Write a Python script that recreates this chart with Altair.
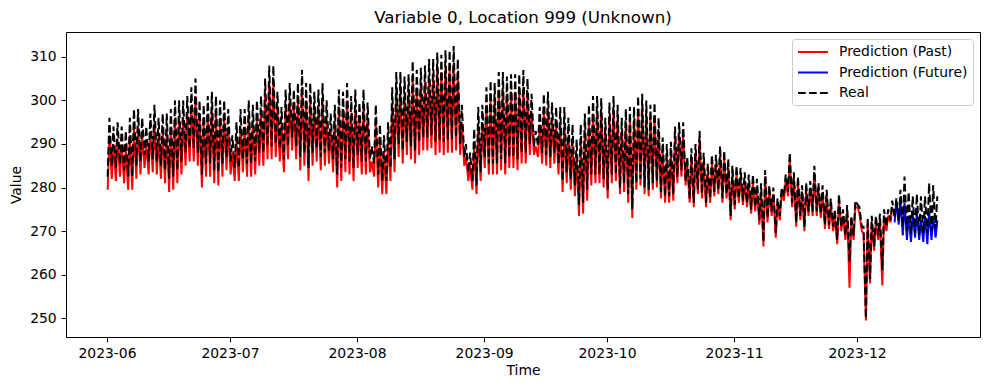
import altair as alt
import pandas as pd

START = "2023-06-01"
SERIES = ["Prediction (Past)", "Prediction (Future)", "Real"]
TITLE = "Variable 0, Location 999 (Unknown)"
MONTH_TICKS = [6, 7, 8, 9, 10, 11, 12]
Y_TICKS = [250, 260, 270, 280, 290, 300, 310]

# Real (black dashed): daily high / low, day 0 = 2023-06-01
real_hi = [
    296, 294, 295, 294, 293, 296, 298, 298, 296, 294,
    297, 299, 296, 297, 297, 298, 300, 300, 300, 301,
    303, 305, 300, 299, 301, 302, 301, 300, 300, 298,
    292, 295, 298, 298, 300, 299, 300, 301, 305, 308,
    308, 302, 298.5, 302.5, 304, 302.5, 304, 307, 304, 304,
    302, 302.5, 304, 300, 297, 299, 302.5, 302, 304, 301,
    302.5, 299.5, 302.5, 299.5, 289.5, 299, 294.5, 292, 295, 303,
    306.5, 306.5, 305.5, 306, 309, 307, 307.5, 308, 309.5, 309.5,
    311, 310.5, 311.5, 311.5, 312.5, 309.5, 299, 290, 288, 293.5,
    298.5, 299, 303, 304.5, 304, 306.5, 306.5, 305.5, 306, 306,
    306, 307, 305, 301.5, 293, 298.5, 301.5, 302, 299.5, 298.5,
    298.5, 298.5, 296, 294.5, 291, 294.5, 297, 299, 301, 301,
    300.5, 296, 299.5, 301, 299, 296, 298, 298.5, 298.5, 301,
    301.5, 300, 299, 299.5, 296, 291.5, 290, 290.5, 294, 295,
    295, 287, 289, 290, 293, 288, 285.5, 287.5, 287.5, 289.5,
    288.5, 286.5, 285, 285, 284.5, 283.5, 283, 283, 282, 281,
    284, 280.5, 280, 277.5, 280, 283, 288, 283.5, 282.5, 280.5,
    281, 281.5, 285, 281, 280.5, 279.5, 277.5, 275, 278.5, 275,
    276, 273.5, 277, 275.5, 271, 273, 273.5, 273.5, 274, 275,
    275, 277, 277.5, 279.5, 282.5, 279, 278, 278.5, 278, 278,
    281, 280.5, 278,
]
real_lo = [
    282.5, 285, 284.5, 285.5, 284, 282.5, 282.5, 285, 286, 287.5,
    286, 286.5, 286, 285, 284, 282, 282.5, 284, 286, 288,
    289, 289, 288, 283, 285.5, 285.5, 284, 283.5, 285.5, 287,
    286, 284.5, 284.5, 286.5, 285.5, 285.5, 286, 288, 288, 289.5,
    289.5, 290, 289, 286.5, 289.5, 291.5, 289.5, 287, 288, 284.5,
    288, 289, 287, 288, 288.5, 286.5, 283, 284.5, 286.5, 286,
    284.5, 287.5, 286, 286, 286.5, 285.5, 283, 281.5, 281.5, 284.5,
    286.5, 290, 288.5, 290.5, 289.5, 288.5, 290.5, 291.5, 291.5, 292,
    290.5, 291, 290.5, 291, 291, 291.5, 290, 287, 283.5, 281.5,
    280.5, 283.5, 287, 285.5, 285.5, 285.5, 286.5, 285.5, 287, 287,
    286.5, 288, 288, 290, 289.5, 289.5, 288, 287.5, 287, 288,
    285.5, 281.5, 283.5, 282, 280.5, 276, 276.5, 279.5, 283, 283,
    283, 282, 279.5, 283, 283, 280, 281, 278.5, 275, 281,
    282, 280, 279.5, 281, 281.5, 279, 278, 278, 278.5, 282.5,
    284, 281.5, 277.5, 276.5, 279.5, 278.5, 276.5, 277.5, 279, 279.5,
    277.5, 278.5, 273.5, 276, 277.5, 277, 276.5, 275, 275.5, 272.5,
    267.5, 273, 274.5, 269.5, 273.5, 278, 279, 276.5, 272, 273.5,
    271, 274.5, 274.5, 274.5, 274, 271.5, 271.5, 271, 268, 271,
    269, 263, 269, 276, 271, 250, 259, 266.5, 269, 261,
    271, 272.5, 273, 272.5, 271, 270, 269.5, 269.5, 269, 269.5,
    269.5, 270, 270.5,
]

# Prediction (Past), red: days 0..191
pred_hi = [
    292, 290, 291, 290, 289, 292, 294, 294, 292, 290,
    293, 295, 292, 293, 293, 294, 296, 296, 296, 297,
    299, 301, 296, 295, 297, 298, 297, 296, 296, 294,
    288, 291, 294, 294, 296, 295, 296, 297, 301, 304,
    304, 298, 294.5, 298.5, 300, 298.5, 300, 303, 300, 300,
    298, 298.5, 300, 296, 293, 295, 298.5, 298, 300, 297,
    298.5, 295.5, 298.5, 295.5, 286, 295, 290.5, 288, 291, 299,
    302.5, 302.5, 301.5, 302, 305, 303, 303.5, 304, 305.5, 305.5,
    307, 306.5, 307.5, 307.5, 308.5, 305.5, 295, 287, 285, 289.5,
    294.5, 295, 299, 300.5, 300, 302.5, 302.5, 301.5, 302, 302,
    302, 303, 301, 297.5, 289.5, 294.5, 297.5, 298, 295.5, 294.5,
    294.5, 294.5, 292, 290.5, 287.5, 290.5, 293, 295, 297, 297,
    297.5, 293, 296.5, 298, 296, 293, 295, 295.5, 295.5, 298,
    298.5, 297, 296, 296.5, 293, 288.5, 287, 287.5, 291, 292,
    292, 285, 287, 288, 291, 286, 283.5, 285.5, 285.5, 287.5,
    286.5, 284.5, 283, 283, 282.5, 281.5, 281, 281, 280, 279,
    282.5, 279, 278.5, 276, 278.5, 281.5, 286.5, 282, 281, 279,
    279.5, 280, 283.5, 279.5, 279, 278, 276, 273.5, 277, 273.5,
    274.5, 272, 275.5, 274, 269.5, 271.5, 272, 272, 272.5, 273.5,
    273.5, 275.5,
]
pred_lo = [
    279.5, 282, 281.5, 282.5, 281, 279.5, 279.5, 282, 283, 284.5,
    283, 283.5, 283, 282, 281, 279, 279.5, 281, 283, 285,
    286, 286, 285, 280, 282.5, 282.5, 281, 280.5, 282.5, 284,
    283, 281.5, 281.5, 283.5, 282.5, 282.5, 283, 285, 285, 286.5,
    286.5, 287, 286, 283.5, 286.5, 288.5, 286.5, 284, 285, 281.5,
    285, 286, 284, 285, 285.5, 283.5, 280, 281.5, 283.5, 283,
    281.5, 284.5, 283, 283, 283.5, 282.5, 280, 278.5, 278.5, 281.5,
    283.5, 287, 285.5, 287.5, 286.5, 285.5, 287.5, 288.5, 288.5, 289,
    287.5, 288, 287.5, 288, 288, 288.5, 287.5, 285, 281.5, 279.5,
    278.5, 281.5, 284.5, 283, 283, 283, 284, 283, 284.5, 284.5,
    284, 285.5, 285.5, 287.5, 287.5, 287, 285.5, 285, 284.5, 285.5,
    283, 279, 281, 279.5, 278, 273.5, 274, 277, 280.5, 281,
    281, 280, 277.5, 281, 281.5, 278.5, 279, 276.5, 273, 279.5,
    280.5, 278.5, 278, 279.5, 280, 277.5, 276.5, 276.5, 277, 281,
    282.5, 280.5, 276.5, 275.5, 278.5, 277.5, 275.5, 276.5, 278, 278.5,
    276.5, 277.5, 272.5, 275, 276.5, 276, 275.5, 274, 274.5, 271.5,
    266.5, 272, 273.5, 268.5, 272.5, 277, 278, 275.5, 271, 272.5,
    270, 273.5, 273.5, 273.5, 273, 270.5, 270.5, 270, 267, 270,
    268, 257, 268, 275.5, 270, 249.5, 258, 265.5, 268, 257.5,
    270, 272,
]

# Prediction (Future), blue: days 192..202
FUT_FIRST_DAY = 192
fut_hi = [277, 277, 276.5, 273.5, 274, 274.5, 272.5, 273.5, 274.5, 273.5, 272.5]
fut_lo = [272, 271.5, 269, 268, 267.5, 268.5, 268, 267.5, 267, 268, 268.5]


def daily_rows(lo, hi, first_day, name):
    rows = []
    base = pd.Timestamp(START)
    for i, (l, h) in enumerate(zip(lo, hi)):
        d = base + pd.Timedelta(days=first_day + i)
        rows.append({"time": (d + pd.Timedelta(hours=4)).strftime("%Y-%m-%dT%H:%M:%S"),
                     "value": l, "series": name})
        rows.append({"time": (d + pd.Timedelta(hours=14)).strftime("%Y-%m-%dT%H:%M:%S"),
                     "value": h, "series": name})
    return rows


rows = (daily_rows(pred_lo, pred_hi, 0, SERIES[0])
        + daily_rows(fut_lo, fut_hi, FUT_FIRST_DAY, SERIES[1])
        + daily_rows(real_lo, real_hi, 0, SERIES[2]))
df = pd.DataFrame(rows)

FONT = "DejaVu Sans"

color_scale = alt.Scale(domain=SERIES, range=["#ff0000", "#0000ff", "#000000"])
dash_scale = alt.Scale(domain=SERIES, range=[[1, 0], [1, 0], [7.7, 3.3]])
legend = alt.Legend(
    title=None, orient="top-right", offset=7, padding=5,
    fillColor="white", strokeColor="#cccccc", cornerRadius=3,
    symbolType="M-1,0H3.28", symbolSize=196, symbolStrokeWidth=2,
    labelFont=FONT, labelFontSize=13.9, labelColor="black",
    rowPadding=5.5, labelOffset=26, labelLimit=300,
)

x_enc = alt.X(
    "time:T",
    scale=alt.Scale(domain=[alt.DateTime(year=2023, month=5, date=22),
                            alt.DateTime(year=2023, month=12, date=31)]),
    axis=alt.Axis(values=[alt.DateTime(year=2023, month=m, date=1) for m in MONTH_TICKS],
                  format="%Y-%m", title="Time", labelFlush=False, labelOverlap=False,
                  titlePadding=3),
)
y_enc = alt.Y(
    "value:Q",
    scale=alt.Scale(domain=[245.7, 315.7], nice=False, zero=False),
    axis=alt.Axis(values=Y_TICKS, title="Value", titlePadding=6),
)

base = alt.Chart(df).mark_line(strokeWidth=2, clip=True).encode(
    x=x_enc,
    y=y_enc,
    color=alt.Color("series:N", scale=color_scale, legend=legend),
    strokeDash=alt.StrokeDash("series:N", scale=dash_scale, legend=legend),
)

layers = [base.transform_filter(alt.datum.series == s) for s in SERIES]

chart = alt.layer(*layers).properties(
    width=914, height=305,
    padding={"left": 58, "top": 24, "right": 1, "bottom": 45},
    autosize=alt.AutoSizeParams(type="none"),
    title=alt.TitleParams(TITLE, font=FONT, fontSize=16.7, fontWeight="normal",
                          color="black", anchor="middle", offset=5),
).configure_axis(
    labelFont=FONT, labelFontSize=13.9, labelColor="black",
    titleFont=FONT, titleFontSize=13.9, titleFontWeight="normal", titleColor="black",
    tickColor="black", tickSize=4.9, tickWidth=1, labelPadding=4.9,
    domain=False, grid=False,
).configure_view(stroke="black", strokeWidth=1)

chart.save("out.html", embed_options={"renderer": "svg", "actions": False})
